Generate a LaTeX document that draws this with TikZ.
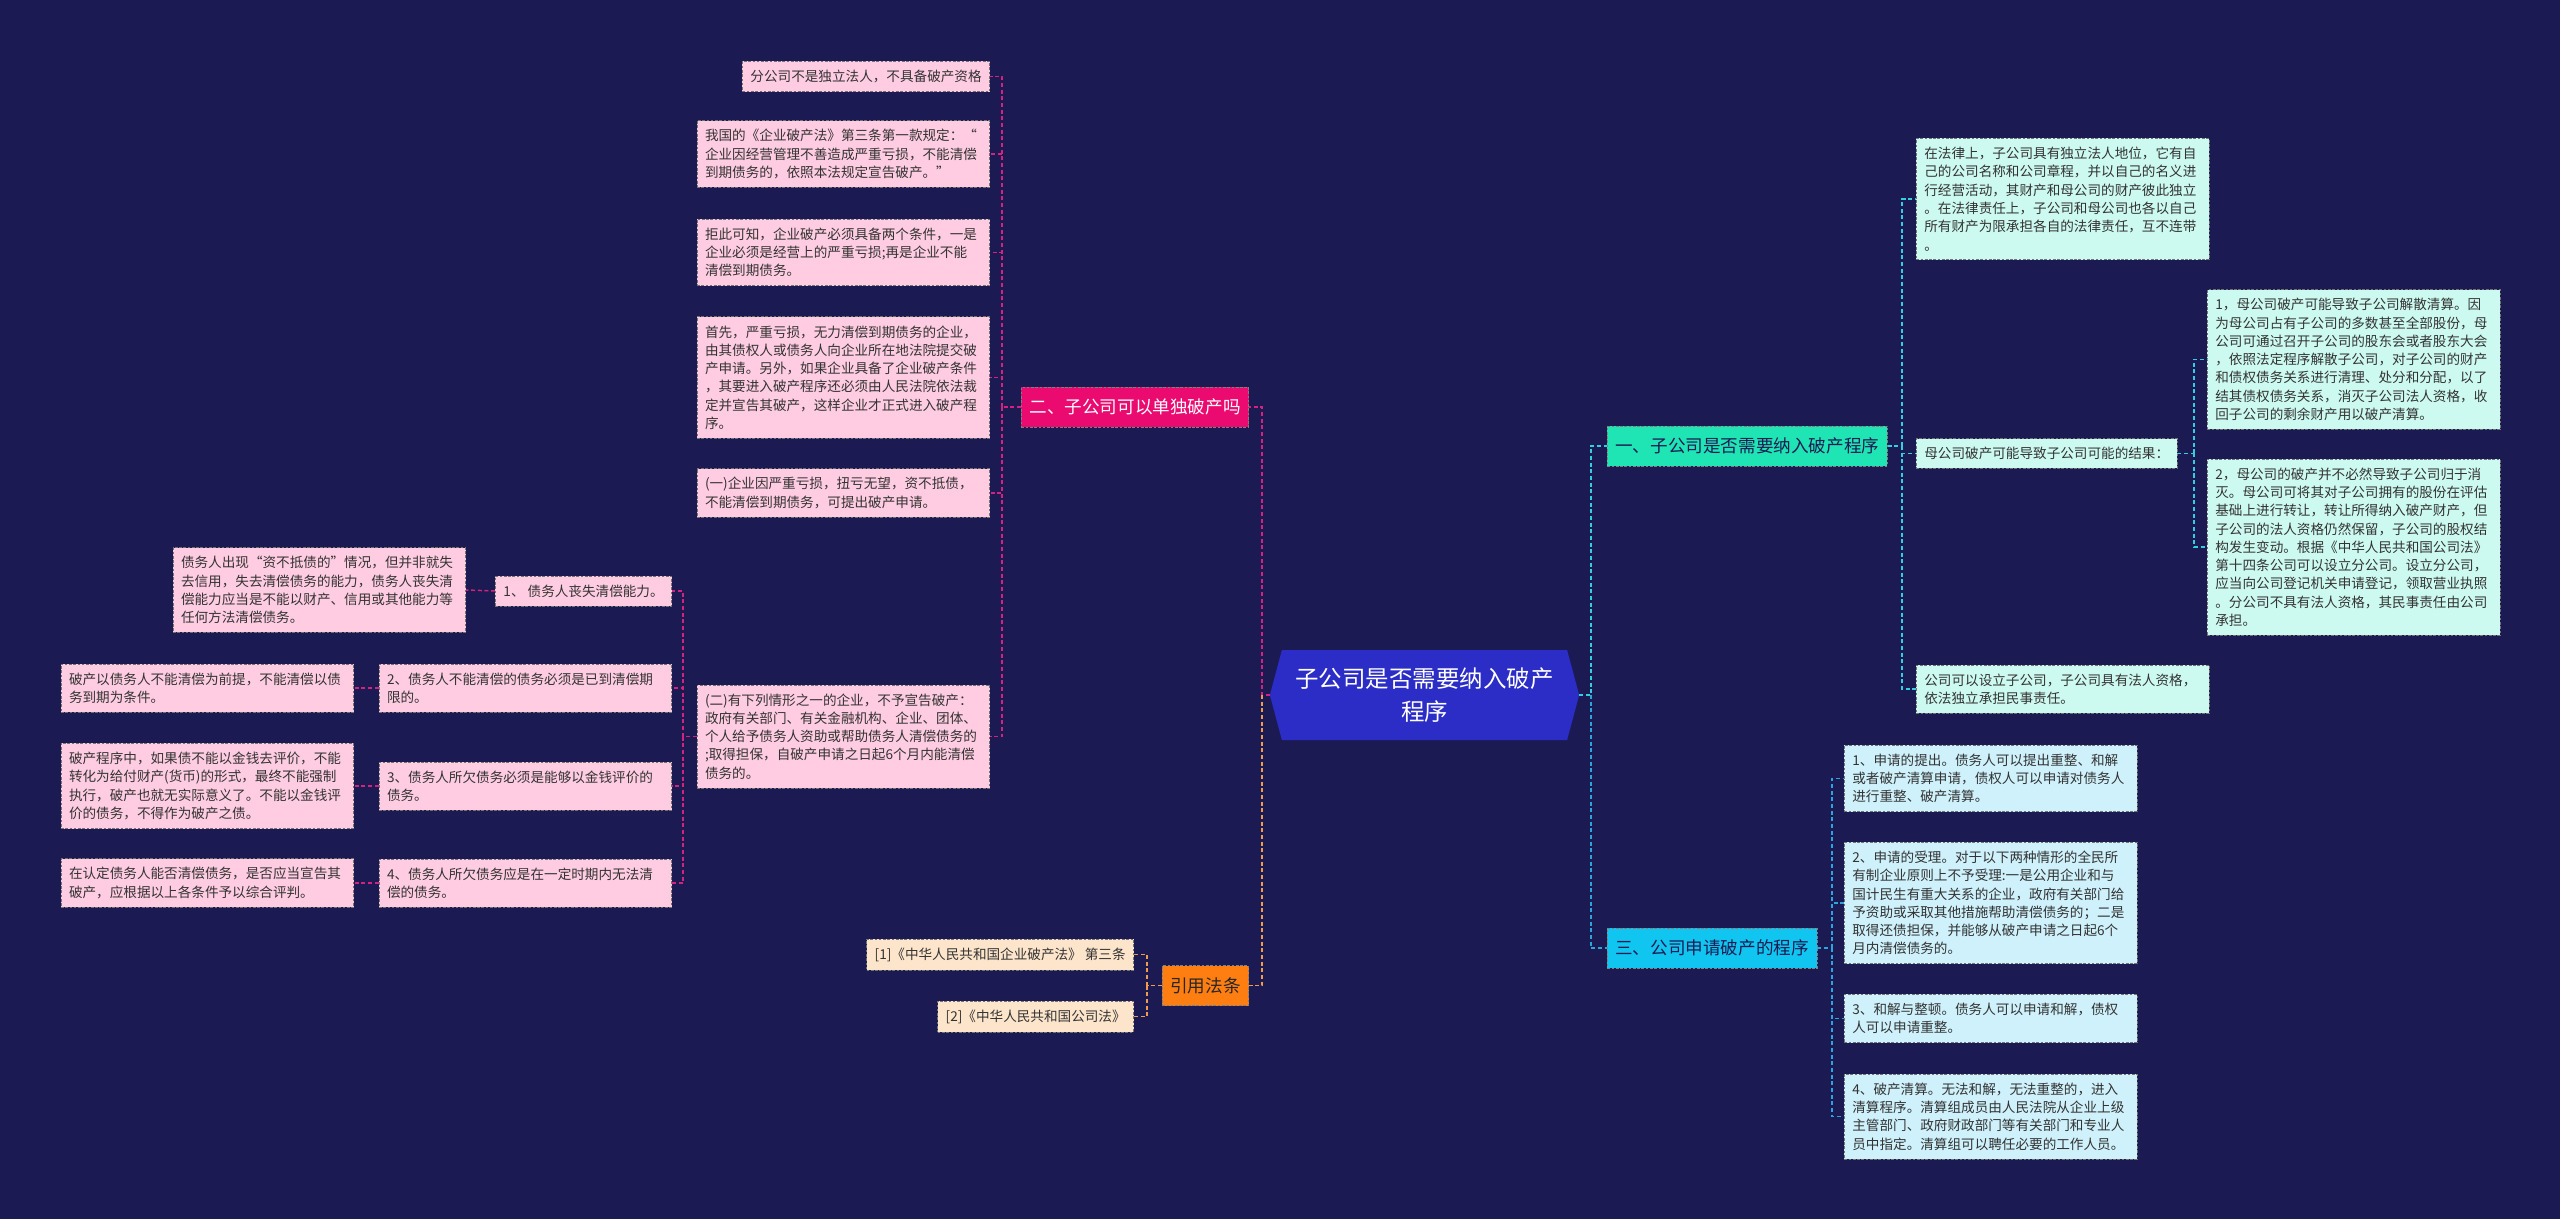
\documentclass[tikz,border=0pt]{standalone}
\usepackage{fontspec}
\setmainfont{Noto Sans CJK SC}
\usetikzlibrary{shapes.symbols}
\definecolor{bgnavy}{HTML}{1B1A52}
\definecolor{hubblue}{HTML}{2B2DC6}
\definecolor{topteal}{HTML}{1FE5B5}
\definecolor{lowcyan}{HTML}{10C6F0}
\definecolor{midpink}{HTML}{EA0A70}
\definecolor{citeorange}{HTML}{FF7E12}
\definecolor{leafpink}{HTML}{FFCCE1}
\definecolor{leafmint}{HTML}{CDFAF0}
\definecolor{leafsky}{HTML}{CEF1FB}
\definecolor{leafpeach}{HTML}{FDE5CB}
\definecolor{inkgray}{HTML}{333333}
\definecolor{linkpink}{HTML}{D4237F}
\definecolor{linkorange}{HTML}{F29A4E}
\definecolor{linkteal}{HTML}{33CFE0}
\definecolor{linkcyan}{HTML}{2AA5DD}

\tikzset{
  box/.style={draw=black!55, dash pattern=on 2pt off 1.2pt, line width=0.5pt, text=inkgray,
    font=\fontsize{10.2pt}{13.7pt}\selectfont, inner xsep=6pt, inner ysep=6.5pt, align=left},
  leaf/.style={box, text width=207.5pt},
  branch/.style={draw=black!50, dash pattern=on 2pt off 1.2pt, line width=0.5pt,
    font=\fontsize{13.2pt}{16pt}\selectfont, inner xsep=6pt, minimum height=30pt},
  hub/.style={signal, signal to=west and east, signal pointer angle=150, fill=hubblue, text=white,
    font=\fontsize{17.6pt}{24.7pt}\selectfont, align=center, minimum width=232pt, minimum height=67.5pt, inner sep=2pt},
  link/.style={dash pattern=on 3pt off 2pt, line width=1.1pt},
  pkline/.style={link, draw=linkpink},
  orline/.style={link, draw=linkorange},
  tlline/.style={link, draw=linkteal},
  cyline/.style={link, draw=linkcyan}
}

\begin{document}
\begin{tikzpicture}[x=0.75pt,y=-0.75pt]
\fill[bgnavy] (0,0) rectangle (2560,1219);
\useasboundingbox (0,0) rectangle (2560,1219);

\node (hub) at (1424.5,695) [hub] {子公司是否需要纳入破产\\程序};

\node (b2) at (1249,407) [branch, anchor=east, fill=midpink, text=white] {二、子公司可以单独破产吗};
\node (law) at (1249,985.5) [branch, anchor=east, fill=citeorange, text=black!85] {引用法条};
\node (b1) at (1607,446) [branch, anchor=west, fill=topteal, text=bgnavy] {一、子公司是否需要纳入破产程序};
\node (b3) at (1607,948) [branch, anchor=west, fill=lowcyan, text=bgnavy] {三、公司申请破产的程序};

\node (p1) at (990,76.5) [box, anchor=east, fill=leafpink] {分公司不是独立法人，不具备破产资格};
\node (p2) at (990,154) [leaf, anchor=east, fill=leafpink] {我国的《企业破产法》第三条第一款规定：“\\企业因经营管理不善造成严重亏损，不能清偿\\到期债务的，依照本法规定宣告破产。”};
\node (p3) at (990,252.5) [leaf, anchor=east, fill=leafpink] {拒此可知，企业破产必须具备两个条件，一是\\企业必须是经营上的严重亏损;再是企业不能\\清偿到期债务。};
\node (p4) at (990,377.5) [leaf, anchor=east, fill=leafpink] {首先，严重亏损，无力清偿到期债务的企业，\\由其债权人或债务人向企业所在地法院提交破\\产申请。另外，如果企业具备了企业破产条件\\，其要进入破产程序还必须由人民法院依法裁\\定并宣告其破产，这样企业才正式进入破产程\\序。};
\node (p5) at (990,493) [leaf, anchor=east, fill=leafpink] {(一)企业因严重亏损，扭亏无望，资不抵债，\\不能清偿到期债务，可提出破产申请。};
\node (p6) at (990,736.5) [leaf, anchor=east, fill=leafpink] {(二)有下列情形之一的企业，不予宣告破产：\\政府有关部门、有关金融机构、企业、团体、\\个人给予债务人资助或帮助债务人清偿债务的\\;取得担保，自破产申请之日起6个月内能清偿\\债务的。};

\node (q1) at (672,591) [box, anchor=east, fill=leafpink] {1、 债务人丧失清偿能力。};
\node (q2) at (672,688) [leaf, anchor=east, fill=leafpink] {2、债务人不能清偿的债务必须是已到清偿期\\限的。};
\node (q3) at (672,786) [leaf, anchor=east, fill=leafpink] {3、债务人所欠债务必须是能够以金钱评价的\\债务。};
\node (q4) at (672,883) [leaf, anchor=east, fill=leafpink] {4、债务人所欠债务应是在一定时期内无法清\\偿的债务。};

\node (r1) at (466,590) [leaf, anchor=east, fill=leafpink] {债务人出现“资不抵债的”情况，但并非就失\\去信用，失去清偿债务的能力，债务人丧失清\\偿能力应当是不能以财产、信用或其他能力等\\任何方法清偿债务。};
\node (r2) at (354,688) [leaf, anchor=east, fill=leafpink] {破产以债务人不能清偿为前提，不能清偿以债\\务到期为条件。};
\node (r3) at (354,786) [leaf, anchor=east, fill=leafpink] {破产程序中，如果债不能以金钱去评价，不能\\转化为给付财产(货币)的形式，最终不能强制\\执行，破产也就无实际意义了。不能以金钱评\\价的债务，不得作为破产之债。};
\node (r4) at (354,883) [leaf, anchor=east, fill=leafpink] {在认定债务人能否清偿债务，是否应当宣告其\\破产，应根据以上各条件予以综合评判。};

\node (c1) at (1134,954.5) [box, anchor=east, fill=leafpeach] {[1]《中华人民共和国企业破产法》 第三条};
\node (c2) at (1134,1016.5) [box, anchor=east, fill=leafpeach] {[2]《中华人民共和国公司法》};

\node (ta) at (1916,199) [leaf, anchor=west, fill=leafmint] {在法律上，子公司具有独立法人地位，它有自\\己的公司名称和公司章程，并以自己的名义进\\行经营活动，其财产和母公司的财产彼此独立\\。在法律责任上，子公司和母公司也各以自己\\所有财产为限承担各自的法律责任，互不连带\\。};
\node (tb) at (1916,453.5) [box, anchor=west, fill=leafmint] {母公司破产可能导致子公司可能的结果：};
\node (tc) at (1916,689) [leaf, anchor=west, fill=leafmint] {公司可以设立子公司，子公司具有法人资格，\\依法独立承担民事责任。};
\node (tb1) at (2207,359.5) [leaf, anchor=west, fill=leafmint] {1，母公司破产可能导致子公司解散清算。因\\为母公司占有子公司的多数甚至全部股份，母\\公司可通过召开子公司的股东会或者股东大会\\，依照法定程序解散子公司，对子公司的财产\\和债权债务关系进行清理、处分和分配，以了\\结其债权债务关系，消灭子公司法人资格，收\\回子公司的剩余财产用以破产清算。};
\node (tb2) at (2207,547) [leaf, anchor=west, fill=leafmint] {2，母公司的破产并不必然导致子公司归于消\\灭。母公司可将其对子公司拥有的股份在评估\\基础上进行转让，转让所得纳入破产财产，但\\子公司的法人资格仍然保留，子公司的股权结\\构发生变动。根据《中华人民共和国公司法》\\第十四条公司可以设立分公司。设立分公司，\\应当向公司登记机关申请登记，领取营业执照\\。分公司不具有法人资格，其民事责任由公司\\承担。};

\node (s1) at (1844,778.5) [leaf, anchor=west, fill=leafsky] {1、申请的提出。债务人可以提出重整、和解\\或者破产清算申请，债权人可以申请对债务人\\进行重整、破产清算。};
\node (s2) at (1844,903) [leaf, anchor=west, fill=leafsky] {2、申请的受理。对于以下两种情形的全民所\\有制企业原则上不予受理:一是公用企业和与\\国计民生有重大关系的企业，政府有关部门给\\予资助或采取其他措施帮助清偿债务的；二是\\取得还债担保，并能够从破产申请之日起6个\\月内清偿债务的。};
\node (s3) at (1844,1018.5) [leaf, anchor=west, fill=leafsky] {3、和解与整顿。债务人可以申请和解，债权\\人可以申请重整。};
\node (s4) at (1844,1116.5) [leaf, anchor=west, fill=leafsky] {4、破产清算。无法和解，无法重整的，进入\\清算程序。清算组成员由人民法院从企业上级\\主管部门、政府财政部门等有关部门和专业人\\员中指定。清算组可以聘任必要的工作人员。};

\coordinate (jl) at (1262,695);
\coordinate (jr) at (1591,695);
\coordinate (jp) at (1002,407);
\coordinate (jq) at (683,736.5);
\coordinate (jc) at (1147,985.5);
\coordinate (jt) at (1902,446);
\coordinate (jb) at (2194,453.5);
\coordinate (js) at (1832,948);

\draw[pkline] (hub.west) -- (jl) |- (b2.east);
\draw[orline] (jl) |- (law.east);
\draw[tlline] (hub.east) -- (jr) |- (b1.west);
\draw[cyline] (jr) |- (b3.west);

\draw[pkline] (b2.west) -- (jp);
\foreach \n in {p1,p2,p3,p4,p5,p6} \draw[pkline] (jp) |- (\n.east);
\draw[pkline] (p6.west) -- (jq);
\foreach \n in {q1,q2,q3,q4} \draw[pkline] (jq) |- (\n.east);
\draw[pkline] (q1.west) -- (r1.east);
\draw[pkline] (q2.west) -- (r2.east);
\draw[pkline] (q3.west) -- (r3.east);
\draw[pkline] (q4.west) -- (r4.east);

\draw[orline] (law.west) -- (jc);
\foreach \n in {c1,c2} \draw[orline] (jc) |- (\n.east);

\draw[tlline] (b1.east) -- (jt);
\foreach \n in {ta,tb,tc} \draw[tlline] (jt) |- (\n.west);
\draw[tlline] (tb.east) -- (jb);
\foreach \n in {tb1,tb2} \draw[tlline] (jb) |- (\n.west);

\draw[cyline] (b3.east) -- (js);
\foreach \n in {s1,s2,s3,s4} \draw[cyline] (js) |- (\n.west);
\end{tikzpicture}
\end{document}
